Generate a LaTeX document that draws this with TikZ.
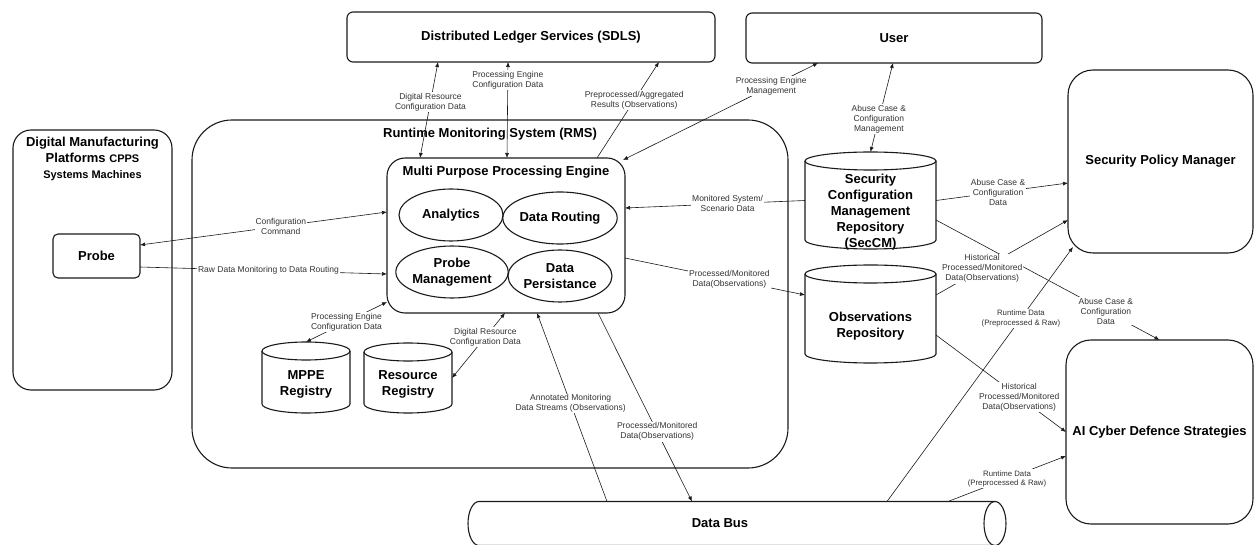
\documentclass[tikz,border=0pt]{standalone}
\usepackage{fontspec}
\setmainfont{Liberation Sans}
\usepackage{tikz}
\usetikzlibrary{positioning,shapes.geometric,arrows.meta}
\definecolor{ink}{HTML}{1A1A1A}
\definecolor{labtext}{HTML}{333333}
\tikzset{
  box/.style={draw=ink, line width=1.1pt, rounded corners=#1, inner sep=0pt, outer sep=0pt},
  box/.default=6pt,
  cylbox/.style={inner sep=0pt, outer sep=0pt},
  cylline/.style={draw=ink, line width=1.1pt},
  oval/.style={draw=ink, line width=1.1pt, ellipse, minimum width=104pt, minimum height=52pt,
    inner sep=0pt, align=center, font=\bfseries\fontsize{13}{16}\selectfont},
  ttl/.style={font=\bfseries\fontsize{13}{16}\selectfont, align=center, inner sep=0pt},
  lab/.style={text=labtext, font=\fontsize{8.5}{10}\selectfont, fill=white, inner sep=1pt, align=center},
  labs/.style={lab, font=\fontsize{7.8}{9.5}\selectfont},
  link/.style={draw=ink, line width=0.6pt, -{Latex[length=5pt,width=4pt]}},
  both/.style={link, {Latex[length=5pt,width=4pt]}-{Latex[length=5pt,width=4pt]}},
}
\begin{document}
\begin{tikzpicture}[x=1pt, y=-1pt]
  \useasboundingbox (0,0) rectangle (1254,545);
  \node[box] (sdls) at (531,37) [minimum width=368pt, minimum height=50pt, ttl] {Distributed Ledger Services (SDLS)};
  \node[box] (user) at (894,38) [minimum width=296pt, minimum height=50pt, ttl] {User};
  \node[box=18pt, minimum width=159pt, minimum height=260pt] (dmp) at (92.5,260) {};
  \node[ttl, below=7pt of dmp.north] (dmptitle) {Digital Manufacturing\\Platforms {\fontsize{11}{14}\selectfont CPPS}\\{\fontsize{11}{14}\selectfont Systems Machines}};
  \node[box=5pt, minimum width=87pt, minimum height=44pt, ttl] (probe) at (96.5,256) {Probe};
  \node[box=40pt, minimum width=596pt, minimum height=348pt] (rms) at (490,294) {};
  \node[ttl, below=8pt of rms.north] (rmstitle) {Runtime Monitoring System (RMS)};
  \node[box=18pt, minimum width=238pt, minimum height=155pt] (mppe) at (506,235.5) {};
  \node[ttl, below=8pt of mppe.north] (mppetitle) {Multi Purpose Processing Engine};
  \node[oval] (analytics) at (451,215) {Analytics};
  \node[oval] (routing) at (560,218) {Data Routing};
  \node[oval] (probemgmt) at (452,272) {Probe\\Management};
  \node[oval] (persist) at (560,276) {Data\\Persistance};
  \node[cylbox, minimum width=88pt, minimum height=71pt,
    label={[ttl, yshift=-6.5pt]center:{MPPE\\Registry}}] (mppereg) at (306,377.5) {};
  \node[cylbox, minimum width=88pt, minimum height=70pt,
    label={[ttl, yshift=-6.5pt]center:{Resource\\Registry}}] (resreg) at (408,378) {};
  \node[cylbox, minimum width=131pt, minimum height=97pt,
    label={[ttl, yshift=-12pt]center:{Security\\Configuration\\Management\\Repository\\(SecCM)}}] (seccm) at (870.5,200.5) {};
  \node[cylbox, minimum width=131pt, minimum height=98pt,
    label={[ttl, yshift=-12pt]center:{Observations\\Repository}}] (obsrepo) at (870.5,314) {};
  \foreach \c/\rx/\ry in {mppereg/44/9, resreg/44/9, seccm/65.5/9, obsrepo/65.5/9} {
    \draw[cylline] ([yshift=-\ry pt]\c.north west) -- ([yshift=\ry pt]\c.south west)
      arc[start angle=180, end angle=360, x radius=\rx pt, y radius=\ry pt] -- ([yshift=-\ry pt]\c.north east);
    \draw[cylline] ([yshift=-\ry pt]\c.north) ellipse[x radius=\rx pt, y radius=\ry pt];
  }
  \node[box=25pt, minimum width=185pt, minimum height=183pt, ttl] (spm) at (1160.5,161.5) {Security Policy Manager};
  \node[box=25pt, minimum width=187pt, minimum height=184pt, ttl] (ai) at (1159.5,432) {AI Cyber Defence Strategies};
  \node[cylbox, minimum width=504pt, minimum height=44pt, ttl] (bus) at (720,523.5) {Data Bus};
  \draw[cylline] ([xshift=23pt]bus.north east) -- ([xshift=11pt]bus.north west)
    arc[start angle=90, end angle=270, x radius=11pt, y radius=22pt] -- ([xshift=23pt]bus.south east);
  \draw[cylline] ([xshift=23pt]bus.east) ellipse[x radius=11pt, y radius=22pt];

  \draw[both] ([xshift=91pt]sdls.south west) -- node[lab,pos=0.42] {Digital Resource\\Configuration Data} ([xshift=33pt]mppe.north west);
  \draw[both] ([xshift=161pt]sdls.south west) -- node[lab,pos=0.19] {Processing Engine\\Configuration Data} ([xshift=120pt]mppe.north west);
  \draw[link] ([xshift=210pt]mppe.north west) -- node[lab,pos=0.6] {Preprocessed/Aggregated\\Results (Observations)} ([xshift=312pt]sdls.south west);
  \draw[both] ([shift={(-2pt,-2pt)}]mppe.north east) -- node[lab,pos=0.76] {Processing Engine\\Management} ([xshift=72pt]user.south west);
  \draw[both] ([xshift=147pt]user.south west) -- node[lab,pos=0.63] {Abuse Case \&\\Configuration\\Management} (seccm.north);
  \draw[both] ([yshift=23.5pt]mppe.west) -- node[lab,pos=0.43] {Configuration\\Command} ([yshift=11pt]probe.east);
  \draw[link] ([yshift=-11pt]probe.east) -- node[lab,pos=0.52] {Raw Data Monitoring to Data Routing} ([yshift=-38.5pt]mppe.west);
  \draw[both] ([yshift=11pt]mppe.south west) -- node[lab,pos=0.5] {Processing Engine\\Configuration Data} (mppereg.north);
  \draw[both] ([xshift=118pt]mppe.south west) -- node[lab,pos=0.37] {Digital Resource\\Configuration Data} (resreg.east);
  \draw[link] (seccm.west) -- node[lab,pos=0.43] {Monitored System/\\Scenario Data} ([yshift=27.5pt]mppe.east);
  \draw[link] ([yshift=-22.5pt]mppe.east) -- node[lab,pos=0.58] {Processed/Monitored\\Data(Observations)} ([yshift=19pt]obsrepo.west);
  \draw[link] ([xshift=-113pt]bus.north) -- node[lab,pos=0.52] {Annotated Monitoring\\Data Streams (Observations)} ([xshift=150pt]mppe.south west);
  \draw[link] ([xshift=211pt]mppe.south west) -- node[lab,pos=0.63] {Processed/Monitored\\Data(Observations)} ([xshift=-28pt]bus.north);
  \draw[link] (seccm.east) -- node[lab,pos=0.47] {Abuse Case \&\\Configuration\\Data} ([yshift=-21.5pt]spm.west);
  \draw[link] ([yshift=-19.5pt]seccm.east) -- node[lab,pos=0.76] {Abuse Case \&\\Configuration\\Data} (ai.north);
  \draw[link] ([yshift=19pt]obsrepo.east) -- node[lab,pos=0.35] {Historical\\Processed/Monitored\\Data(Observations)} ([yshift=-58.5pt]spm.west);
  \draw[link] ([yshift=-21pt]obsrepo.east) -- node[lab,pos=0.64] {Historical\\Processed/Monitored\\Data(Observations)} (ai.west);
  \draw[link] ([xshift=167pt]bus.north) -- node[labs,pos=0.72] {Runtime Data\\(Preprocessed \& Raw)} ([shift={(5pt,6pt)}]spm.south west);
  \draw[link] ([xshift=228pt]bus.north) -- node[labs,pos=0.5] {Runtime Data\\(Preprocessed \& Raw)} ([yshift=-24pt]ai.west);
\end{tikzpicture}
\end{document}
